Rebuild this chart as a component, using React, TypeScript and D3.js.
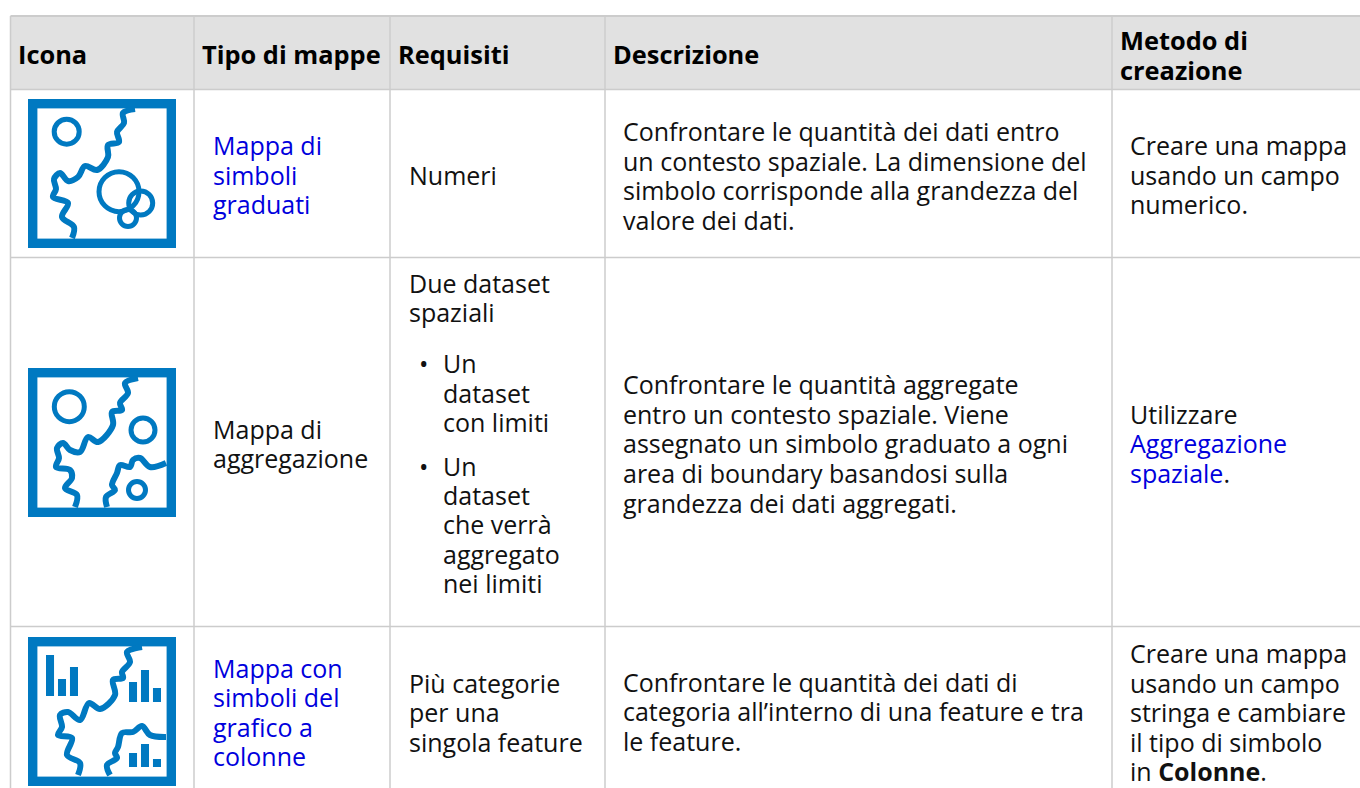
import React from 'react';
import * as d3 from 'd3';

// table grid
const columnEdges = [10.5, 194, 390, 605, 1112, 1362];
const rowEdges = [16, 89.5, 257.5, 626.5, 790];
const textOffsets = [7.5, 8, 8, 8, 8];

const headers = [
  { col: 0, lines: [{ t: 'Icona', y: 64 }] },
  { col: 1, lines: [{ t: 'Tipo di mappe', y: 64 }] },
  { col: 2, lines: [{ t: 'Requisiti', y: 64 }] },
  { col: 3, lines: [{ t: 'Descrizione', y: 64 }] },
  { col: 4, lines: [{ t: 'Metodo di', y: 49.5 }, { t: 'creazione', y: 79.5 }] },
];

type Run = { t: string; bold?: boolean; link?: boolean };
type Line = { x: number; y: number; runs: Run[] };

const link = (t: string): Run[] => [{ t, link: true }];
const plain = (t: string): Run[] => [{ t }];

const cellLines: Line[] = [
  { x: 213, y: 155, runs: link('Mappa di') },
  { x: 213, y: 185, runs: link('simboli') },
  { x: 213, y: 214, runs: link('graduati') },
  { x: 409, y: 185, runs: plain('Numeri') },
  { x: 623, y: 141, runs: plain('Confrontare le quantità dei dati entro') },
  { x: 623, y: 171, runs: plain('un contesto spaziale. La dimensione del') },
  { x: 623, y: 200, runs: plain('simbolo corrisponde alla grandezza del') },
  { x: 623, y: 230, runs: plain('valore dei dati.') },
  { x: 1130, y: 155, runs: plain('Creare una mappa') },
  { x: 1130, y: 185, runs: plain('usando un campo') },
  { x: 1130, y: 214, runs: plain('numerico.') },

  { x: 213, y: 439, runs: plain('Mappa di') },
  { x: 213, y: 468, runs: plain('aggregazione') },
  { x: 409, y: 293, runs: plain('Due dataset') },
  { x: 409, y: 322, runs: plain('spaziali') },
  { x: 419, y: 373, runs: plain('•') },
  { x: 443, y: 373, runs: plain('Un') },
  { x: 443, y: 403, runs: plain('dataset') },
  { x: 443, y: 432, runs: plain('con limiti') },
  { x: 419, y: 476, runs: plain('•') },
  { x: 443, y: 476, runs: plain('Un') },
  { x: 443, y: 505, runs: plain('dataset') },
  { x: 443, y: 534, runs: plain('che verrà') },
  { x: 443, y: 564, runs: plain('aggregato') },
  { x: 443, y: 593, runs: plain('nei limiti') },
  { x: 623, y: 394, runs: plain('Confrontare le quantità aggregate') },
  { x: 623, y: 424, runs: plain('entro un contesto spaziale. Viene') },
  { x: 623, y: 453, runs: plain('assegnato un simbolo graduato a ogni') },
  { x: 623, y: 483, runs: plain('area di boundary basandosi sulla') },
  { x: 623, y: 513, runs: plain('grandezza dei dati aggregati.') },
  { x: 1130, y: 424, runs: plain('Utilizzare') },
  { x: 1130, y: 453, runs: link('Aggregazione') },
  { x: 1130, y: 483, runs: [{ t: 'spaziale', link: true }, { t: '.' }] },

  { x: 213, y: 678, runs: link('Mappa con') },
  { x: 213, y: 707, runs: link('simboli del') },
  { x: 213, y: 737, runs: link('grafico a') },
  { x: 213, y: 766, runs: link('colonne') },
  { x: 409, y: 693, runs: plain('Più categorie') },
  { x: 409, y: 722, runs: plain('per una') },
  { x: 409, y: 752, runs: plain('singola feature') },
  { x: 623, y: 692, runs: plain('Confrontare le quantità dei dati di') },
  { x: 623, y: 721, runs: plain('categoria all’interno di una feature e tra') },
  { x: 623, y: 751, runs: plain('le feature.') },
  { x: 1130, y: 663, runs: plain('Creare una mappa') },
  { x: 1130, y: 693, runs: plain('usando un campo') },
  { x: 1130, y: 722, runs: plain('stringa e cambiare') },
  { x: 1130, y: 752, runs: plain('il tipo di simbolo') },
  { x: 1130, y: 781, runs: [{ t: 'in ' }, { t: 'Colonne', bold: true }, { t: '.' }] },
];

// pictograms, in a 148 unit box
type Pt = [number, number];

const riverA: Pt[] = [[107, 10], [95, 14], [96, 24], [89, 33], [91, 43], [80, 46], [80, 58], [69, 71], [57, 67], [50, 78], [40, 82], [32, 74], [26, 80], [28, 90], [25, 98], [40, 104], [34, 118], [46, 128], [44, 139]];
const riverB1: Pt[] = [[110, 10], [97, 15], [100, 25], [92, 35], [94, 42], [84, 44], [85, 57], [70, 74], [60, 69], [52, 84], [42, 82], [35, 75], [29, 80], [31, 90], [28, 99], [42, 102], [44, 110], [37, 120], [49, 127], [47, 139]];
const riverB2: Pt[] = [[138, 95], [122, 99], [112, 90], [105, 92], [102, 99], [92, 97], [89, 105], [84, 117], [87, 122], [78, 129], [79, 139]];
const riverC1: Pt[] = [[114, 10], [99, 15], [102, 25], [94, 35], [95, 41], [85, 43], [87, 58], [72, 72], [61, 66], [52, 83], [40, 75], [32, 78], [34, 90], [30, 98], [44, 101], [39, 118], [52, 126], [50, 138]];
const riverC2: Pt[] = [[138, 100], [122, 98], [114, 89], [105, 95], [94, 96], [90, 110], [87, 116], [89, 121], [79, 128], [82, 138]];

const circlesA = [{ cx: 38.7, cy: 32.7, r: 12.5 }, { cx: 91, cy: 92.7, r: 20 }, { cx: 112.7, cy: 104, r: 12 }, { cx: 100, cy: 119, r: 8.5 }];
const circlesB = [{ cx: 41.3, cy: 38.7, r: 15 }, { cx: 115, cy: 62, r: 12 }, { cx: 109, cy: 122, r: 8.5 }];

const barClusters = [
  { x: 18, base: 59, values: [41, 17, 29] },
  { x: 101, base: 65, values: [20, 32, 14] },
  { x: 101, base: 130, values: [14, 23, 8] },
];

const icons = [
  { top: 99, rivers: [riverA], circles: circlesA, bars: [] as typeof barClusters },
  { top: 368, rivers: [riverB1, riverB2], circles: circlesB, bars: [] as typeof barClusters },
  { top: 637, rivers: [riverC1, riverC2], circles: [], bars: barClusters },
];

const BLUE = '#0079c1';
const GRID = '#cccccc';
const FONT = '"Open Sans", "Noto Sans", sans-serif';

const riverLine = d3.line<Pt>().curve(d3.curveCatmullRom.alpha(0.5));

const Icon: React.FC<{ top: number; rivers: Pt[][]; circles: typeof circlesA; bars: typeof barClusters }> = ({ top, rivers, circles, bars }) => (
  <g transform={`translate(28,${top})`}>
    <rect x={4.7} y={4.7} width={138.6} height={139.6} fill="#fff" stroke={BLUE} strokeWidth={9.4} />
    {rivers.map((r, i) => (
      <path key={i} d={riverLine(r) ?? ''} fill="none" stroke={BLUE} strokeWidth={6} />
    ))}
    {circles.map((c, i) => (
      <circle key={i} cx={c.cx} cy={c.cy} r={c.r} fill="none" stroke={BLUE} strokeWidth={5} />
    ))}
    {bars.map((cluster, i) => {
      const band = d3.scaleBand<number>().domain([0, 1, 2]).range([cluster.x, cluster.x + 32]).paddingInner(0.33).paddingOuter(0);
      return cluster.values.map((v, j) => (
        <rect key={`${i}-${j}`} x={band(j)} y={cluster.base - v} width={band.bandwidth()} height={v} fill={BLUE} />
      ));
    })}
  </g>
);

export default function App() {
  return (
    <svg width={1360} height={788} style={{ position: 'absolute', left: 0, top: 0, display: 'block' }} fontFamily={FONT} fontSize={25}>
      <rect x={0} y={0} width={1360} height={788} fill="#fff" />
      <rect x={columnEdges[0]} y={rowEdges[0]} width={1360} height={rowEdges[1] - rowEdges[0]} fill="#e1e1e1" />

      {rowEdges.slice(0, -1).map((y, i) => (
        <line key={i} x1={columnEdges[0]} x2={1360} y1={y} y2={y} stroke={GRID} strokeWidth={i === 0 ? 2 : 1.5} />
      ))}
      {columnEdges.slice(0, -1).map((x, i) => (
        <line key={i} x1={x} x2={x} y1={rowEdges[0]} y2={788} stroke={GRID} strokeWidth={1.5} />
      ))}

      {headers.map((h) =>
        h.lines.map((l) => (
          <text key={l.t} x={columnEdges[h.col] + textOffsets[h.col]} y={l.y} fontWeight={700} fill="#000" fontSize={25.4}>
            {l.t}
          </text>
        ))
      )}

      {icons.map((ic) => (
        <Icon key={ic.top} {...ic} />
      ))}

      {cellLines.map((l, i) => (
        <text key={i} x={l.x} y={l.y} fill="#111">
          {l.runs.map((r, j) => (
            <tspan key={j} fill={r.link ? '#0000dd' : undefined} fontWeight={r.bold ? 700 : undefined}>
              {r.t}
            </tspan>
          ))}
        </text>
      ))}
    </svg>
  );
}
